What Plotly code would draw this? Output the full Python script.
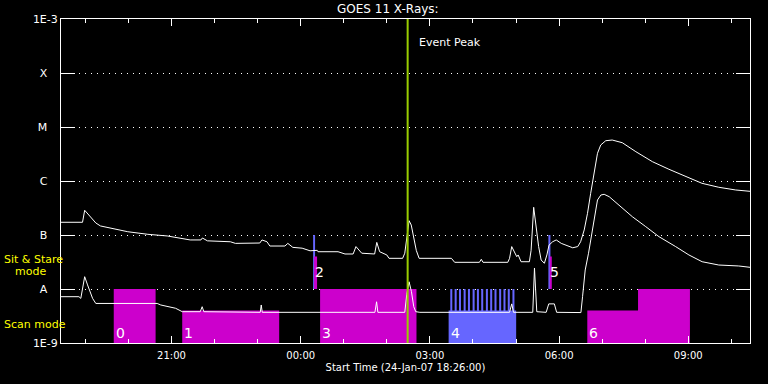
import math
import plotly.graph_objects as go
from datetime import datetime, timedelta

START = datetime(2007, 1, 24, 18, 26)
SPAN_HOURS = 16

# GOES 11 long channel (1-8 A): minutes after start, flux W/m^2
long_t = [0, 30, 33, 41.5, 48.5, 55, 69, 93, 121, 148, 180, 195, 197, 204, 236, 243, 277, 280, 287, 291,
          312, 316, 323, 336, 347, 357, 358, 386, 395.7, 407, 411, 419, 437, 440, 444, 454, 457, 476, 479,
          485, 488, 491.5, 495, 499, 544, 548.5, 583, 585.6, 588, 622.5, 625, 628, 632, 635, 637, 641,
          652.6, 655, 658.6, 662, 665.5, 669, 673.5, 677, 680, 685, 690, 697, 708, 713, 720, 724, 729,
          733.6, 738, 743, 747.5, 752, 759, 768, 782, 801, 824, 847, 872.5, 893, 916.5, 940, 960]
long_flux = [1.72e-7, 1.72e-7, 2.87e-7, 2.18e-7, 1.67e-7, 1.47e-7, 1.33e-7, 1.15e-7, 1.03e-7, 9.6e-8,
             8.1e-8, 8.1e-8, 8.8e-8, 7.8e-8, 7.5e-8, 7.0e-8, 7.1e-8, 8.1e-8, 7.5e-8, 6.25e-8,
             6.25e-8, 7.0e-8, 5.9e-8, 5.7e-8, 5.1e-8, 5.2e-8, 4.9e-8, 4.9e-8, 4.45e-8, 4.45e-8, 6.1e-8,
             4.6e-8, 4.45e-8, 7.3e-8, 4.9e-8, 4.27e-8, 3.7e-8, 3.7e-8, 4.6e-8,
             1.84e-7, 1.53e-7, 9.3e-8, 5.2e-8, 3.7e-8, 3.7e-8, 3.12e-8, 3.12e-8, 3.55e-8, 3.12e-8, 3.12e-8,
             3.7e-8, 6.1e-8, 4.6e-8, 3.97e-8, 4.27e-8, 3.2e-8,
             3.2e-8, 5.2e-8, 3.26e-7, 1.43e-7, 6.1e-8, 3.44e-8, 2.99e-8, 4.27e-8, 6.5e-8, 7.5e-8, 8.1e-8,
             7.0e-8, 6.25e-8, 5.8e-8, 6.1e-8, 7.5e-8, 1.24e-7,
             2.52e-7, 5.9e-7, 1.6e-6, 3.26e-6, 4.64e-6, 5.57e-6, 5.74e-6, 5.12e-6, 3.49e-6, 2.28e-6,
             1.65e-6, 1.2e-6, 9.07e-7, 7.65e-7, 6.82e-7, 6.44e-7]

# GOES 11 short channel (0.5-4 A)
short_t = [0, 25, 27.6, 33, 37, 40.5, 44, 48.5, 134, 139, 148, 159.6, 169, 194, 196.7, 199, 277.6, 279,
           280.4, 437.4, 439.7, 441.5, 479, 481.8, 485, 488.3, 491.5, 494.3, 500, 625, 628, 630.5, 657.3,
           659.7, 662.9, 676, 679.6, 687.4, 690.6, 724.4, 726.7, 730.4, 735, 738.3, 742.9, 747.5, 752.2,
           756.8, 763.8, 777.6, 796.1, 814.7, 833.2, 856.4, 874.9, 893.3, 916.5, 944.3, 960]
short_flux = [7.2e-9, 7.2e-9, 6.7e-9, 1.69e-8, 1.19e-8, 8.9e-9, 6.7e-9, 5.4e-9, 5.4e-9, 5.06e-9, 4.7e-9,
              4.4e-9, 3.8e-9, 3.8e-9, 4.7e-9, 3.8e-9, 3.7e-9, 5.06e-9, 3.7e-9, 3.7e-9, 5.8e-9, 3.7e-9,
              3.7e-9, 8e-9, 1.36e-8, 8.9e-9, 4.7e-9, 3.8e-9, 3.7e-9, 3.7e-9, 5.3e-9, 3.7e-9, 3.7e-9,
              2.45e-8, 3.8e-9, 3.7e-9, 5.3e-9, 5.3e-9, 3.7e-9, 3.66e-9, 7.2e-9, 2.25e-8, 4.6e-8, 8.1e-8,
              1.9e-7, 4.45e-7, 5.5e-7, 5.67e-7, 5.12e-7, 3.6e-7, 2.18e-7, 1.43e-7, 9.3e-8, 6.1e-8,
              4.27e-8, 3.2e-8, 2.78e-8, 2.67e-8, 2.52e-8]

# Observation blocks: start min, end min, low level, high level
blue_start = [351.3, 540.1, 679.1]
blue_end = [354.0, 634.2, 681.9]
blue_low = [1e-8, 1e-9, 1e-8]
blue_high = [1e-7, 4e-9, 1e-7]
# scan raster spikes in block 4
spike_start = [542.4, 548.5, 554.5, 561.0, 567.0, 573.5, 579.5, 585.5, 592.0, 598.0, 604.0, 610.5,
               616.5, 622.5, 629.0]
spike_len = 2.8
spike_low = 4e-9
spike_high = 1e-8

mag_start = [73.5, 168.9, 352.6, 361.0, 681.0, 733.3, 804.0]
mag_end = [131.8, 304.0, 356.8, 495.3, 683.8, 804.0, 876.3]
mag_low = [1e-9, 1e-9, 1e-8, 1e-9, 1e-8, 1e-9, 1e-9]
mag_high = [1e-8, 4e-9, 4e-8, 1e-8, 4e-8, 4e-9, 1e-8]

label_text = ["0", "1", "2", "3", "4", "5", "6"]
label_t = [73.5, 168.9, 351.3, 361.0, 540.1, 679.1, 733.3]
label_mode = ["scan", "scan", "stare", "scan", "scan", "stare", "scan"]

event_peak_min = 483

ytick_vals = [1e-9, 1e-8, 1e-7, 1e-6, 1e-5, 1e-4, 1e-3]
ytick_text = ["1E-9", "A", "B", "C", "M", "X", "1E-3"]


def tt(m):
    return START + timedelta(minutes=m)


def polys(starts, ends, lows, highs):
    xs, ys = [], []
    for a, b, lo, hi in zip(starts, ends, lows, highs):
        xs += [tt(a), tt(b), tt(b), tt(a), tt(a), None]
        ys += [lo, lo, hi, hi, lo, None]
    return xs, ys


FONT = "DejaVu Sans"
fig = go.Figure()

bx, by = polys(blue_start, blue_end, blue_low, blue_high)
sx, sy = polys(spike_start, [s + spike_len for s in spike_start],
               [spike_low] * len(spike_start), [spike_high] * len(spike_start))
fig.add_trace(go.Scatter(x=bx + sx, y=by + sy, mode="lines", fill="toself", fillcolor="#6666ff",
                         line=dict(width=0, color="#6666ff"), hoverinfo="skip", showlegend=False))
mx, my = polys(mag_start, mag_end, mag_low, mag_high)
fig.add_trace(go.Scatter(x=mx, y=my, mode="lines", fill="toself", fillcolor="#cc00cc",
                         line=dict(width=0, color="#cc00cc"), hoverinfo="skip", showlegend=False))

fig.add_trace(go.Scatter(x=[tt(m) for m in long_t], y=long_flux, mode="lines",
                         line=dict(color="white", width=1), showlegend=False))
fig.add_trace(go.Scatter(x=[tt(m) for m in short_t], y=short_flux, mode="lines",
                         line=dict(color="white", width=1), showlegend=False))

fig.add_trace(go.Scatter(x=[tt(event_peak_min), tt(event_peak_min)], y=[1e-9, 1e-3], mode="lines",
                         line=dict(color="#99cc00", width=2), showlegend=False))

ann = []
for txt, m, mode in zip(label_text, label_t, label_mode):
    yv = 1.53e-9 if mode == "scan" else 2.07e-8
    ann.append(dict(x=tt(m), y=math.log10(yv), xref="x", yref="y", text=txt, showarrow=False,
                    xanchor="left", yanchor="middle", xshift=0,
                    font=dict(family=FONT, size=14, color="white")))
ann.append(dict(x=tt(event_peak_min), y=0.926, xref="x", yref="paper", text="Event Peak",
                showarrow=False, xanchor="left", yanchor="middle", xshift=9,
                font=dict(family=FONT, size=11, color="white")))
for txt, py, px in [("Sit & Stare", 259, 2), ("mode", 271, 13), ("Scan mode", 324, 2)]:
    ann.append(dict(x=0, y=(343 - py) / 324, xref="paper", yref="paper", text=txt, showarrow=False,
                    xanchor="left", yanchor="middle", xshift=px - 61,
                    font=dict(family=FONT, size=11, color="#ffff00")))

fig.update_layout(
    width=768, height=384,
    margin=dict(l=61, r=18, t=19, b=41),
    paper_bgcolor="black", plot_bgcolor="black",
    title=dict(text="GOES 11 X-Rays:", x=0.505, xref="container", y=1 - 9 / 384, yref="container",
               xanchor="center", yanchor="middle", font=dict(family=FONT, size=12, color="white")),
    annotations=ann,
    showlegend=False,
)
fig.update_xaxes(
    type="date", range=[START, START + timedelta(hours=SPAN_HOURS)],
    tickformat="%H:%M", tick0="2007-01-24 21:00", dtick=3 * 3600000,
    ticks="inside", ticklen=7, tickcolor="white", tickwidth=1, ticklabelstandoff=3,
    minor=dict(dtick=3600000, tick0="2007-01-24 21:00", ticks="inside", ticklen=4, tickcolor="white"),
    showline=True, linecolor="white", linewidth=1, mirror="ticks", showgrid=False, zeroline=False,
    tickfont=dict(family=FONT, size=10, color="white"),
    title=dict(text="Start Time (24-Jan-07 18:26:00)", font=dict(family=FONT, size=10, color="white"),
               standoff=3),
)
fig.update_yaxes(
    type="log", range=[-9, -3], tickvals=ytick_vals,
    ticktext=[t if len(t) > 1 else t + "\u00a0\u00a0\u00a0" for t in ytick_text],
    ticks="inside", ticklen=14, tickcolor="white", tickwidth=1,
    showline=True, linecolor="white", linewidth=1, mirror="ticks",
    showgrid=True, gridcolor="white", gridwidth=1, griddash="1px,5px", zeroline=False,
    tickfont=dict(family=FONT, size=11, color="white"),
)
fig.write_html("out.html", config={"displayModeBar": False},
               post_script="document.body.style.margin='0';document.body.style.background='black';")
